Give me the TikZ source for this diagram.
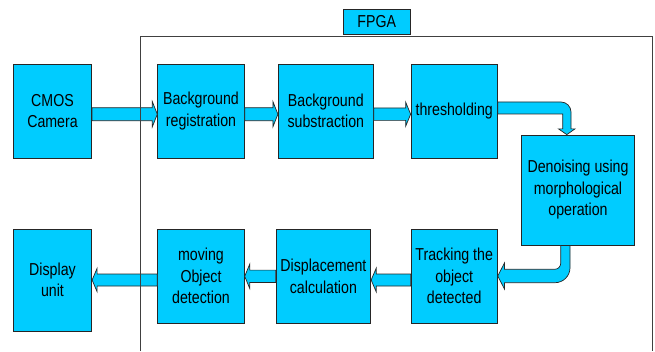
\documentclass[tikz,border=0pt]{standalone}
\usepackage{fontspec}
\setmainfont{Liberation Sans}[FakeStretch=0.82]
\usetikzlibrary{calc}
\definecolor{boxcyan}{HTML}{00CCFF}
\definecolor{framegray}{HTML}{404040}
\newcommand\myrarrow[4]{\path[blockarrow] let \p1=($(#1.east)+(0,#3)$), \p2=(#2.west) in
 (\x1,{\y1+#4}) -- ({\x2-5},{\y1+#4}) -- ({\x2-5},{\y1+1.95*#4}) -- (\x2,\y1) -- ({\x2-5},{\y1-1.95*#4}) -- ({\x2-5},{\y1-#4}) -- (\x1,{\y1-#4}) -- cycle;}
\newcommand\mylarrow[4]{\path[blockarrow] let \p1=($(#1.west)+(0,#3)$), \p2=(#2.east) in
 (\x1,{\y1+#4}) -- ({\x2+5},{\y1+#4}) -- ({\x2+5},{\y1+1.95*#4}) -- (\x2,\y1) -- ({\x2+5},{\y1-1.95*#4}) -- ({\x2+5},{\y1-#4}) -- (\x1,{\y1-#4}) -- cycle;}
\begin{document}
\begin{tikzpicture}[x=1pt,y=1pt,
 blk/.style={draw=black!85, line width=0.8pt, fill=boxcyan, inner sep=0pt, align=center, font=\fontsize{17.3}{21.5}\selectfont},
 blockarrow/.style={draw=black!85, line width=0.7pt, fill=boxcyan, line join=miter},
 frameline/.style={draw=framegray, line width=1pt}]
\useasboundingbox (0,0) rectangle (655,351);
% boxes
\node[blk, minimum width=78.4pt, minimum height=94pt] (cmos) at (52.5,240) {CMOS\\Camera};
\node[blk, minimum width=86.6pt, minimum height=94pt] (br) at (201,240) {Background\\registration};
\node[blk, minimum width=95pt, minimum height=94pt] (bs) at (325.8,240) {Background\\substraction};
\node[blk, minimum width=86.3pt, minimum height=94pt] (th) at (454.2,240) {thresholding};
\node[blk, minimum width=112.6pt, minimum height=110pt] (dn) at (578,161) {Denoising using\\morphological\\operation};
\node[blk, minimum width=86.3pt, minimum height=94pt] (tr) at (454.2,74.7) {Tracking the\\object\\detected};
\node[blk, minimum width=94.7pt, minimum height=94pt] (dc) at (323.4,74.7) {Displacement\\calculation};
\node[blk, minimum width=86.6pt, minimum height=94pt] (mo) at (201,74.7) {moving\\Object\\detection};
\node[blk, minimum width=78.4pt, minimum height=102pt] (du) at (52.5,71) {Display\\unit};
\node[blk, minimum width=66.7pt, minimum height=25pt] (fpga) at (376.7,329.2) {FPGA};
% straight arrows
\myrarrow{cmos}{br}{-3.2}{6.5}
\myrarrow{br}{bs}{-3.2}{6.5}
\myrarrow{bs}{th}{-3.2}{6.2}
\mylarrow{tr}{dc}{-3.7}{6}
\mylarrow{dc}{mo}{0}{6.2}
\mylarrow{mo}{du}{-3.7}{6}
% bent arrows
\path[blockarrow] let \p1=(th.east), \p2=(dn.north) in
 (\x1,{\y1+9}) -- ({\x2-17},{\y1+9}) arc[start angle=90,end angle=0,radius=10]
 -- ({\x2-7},{\y2+5.7}) -- ({\x2-3},{\y2+5.7}) -- ({\x2-11.2},\y2) -- ({\x2-19.5},{\y2+5.7})
 -- ({\x2-15.3},{\y2+5.7}) -- ({\x2-15.3},{\y1-3}) -- (\x1,{\y1-3}) -- cycle;
\path[blockarrow] let \p1=(dn.south), \p2=(tr.east) in
 ({\x1-17.3},\y1) -- ({\x1-8},\y1) -- ({\x1-8},{\y2+8.6}) arc[start angle=0,end angle=-90,radius=15]
 -- ({\x2+6.7},{\y2-6.4}) -- ({\x2+6.7},{\y2-12.7}) -- (\x2,{\y2+0.3}) -- ({\x2+6.7},{\y2+13.3})
 -- ({\x2+6.7},{\y2+7}) -- ({\x1-23.3},{\y2+7}) arc[start angle=-90,end angle=0,radius=6] -- cycle;
% FPGA frame
\draw[frameline] (140.7,0) -- (140.7,314.3) -- (652.7,314.3) -- (652.7,0);
\end{tikzpicture}
\end{document}
